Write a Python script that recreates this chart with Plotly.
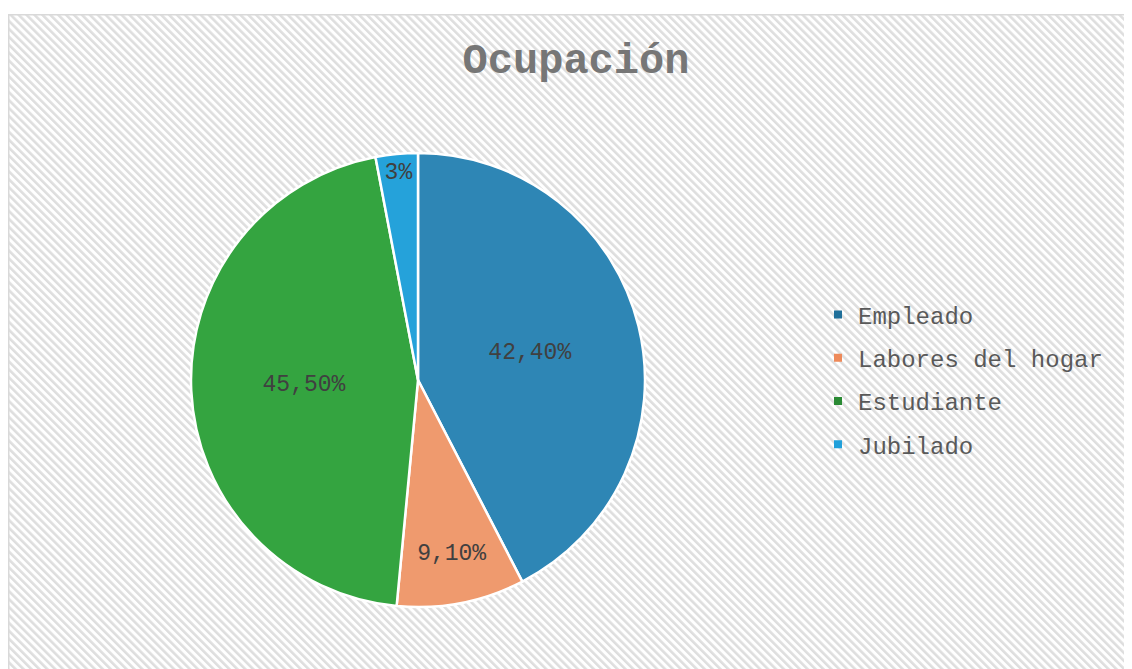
import base64
import plotly.graph_objects as go

categories = ["Empleado", "Labores del hogar", "Estudiante", "Jubilado"]
values = [42.4, 9.1, 45.5, 3.0]
value_labels = ["42,40%", "9,10%", "45,50%", "3%"]
colors = ["#2e86b5", "#ef9a6e", "#34a440", "#25a2da"]
legend_colors = ["#1f6f9a", "#ee8a5a", "#2a8a34", "#21a0da"]

# figure is placed by the page with an 8px body margin
W, H = 1124, 661
FX, FY = 0, 6  # chart frame origin (figure px)

# hatched background (diagonal stripes) as an SVG image
pw, ph = W - FX, H - FY
svg = (
    f'<svg xmlns="http://www.w3.org/2000/svg" width="{pw}" height="{ph}">'
    '<defs><pattern id="p" width="5.6" height="5.6" patternUnits="userSpaceOnUse" '
    'patternTransform="rotate(-45)"><rect width="5.6" height="5.6" fill="#ffffff"/>'
    '<rect width="2.6" height="5.6" fill="#dedede"/></pattern></defs>'
    f'<rect width="{pw}" height="{ph}" fill="url(#p)"/></svg>'
)
src = "data:image/svg+xml;base64," + base64.b64encode(svg.encode()).decode()

FONT = "Liberation Mono, Courier New, monospace"

fig = go.Figure()
fig.add_trace(go.Pie(
    labels=categories,
    values=values,
    text=value_labels,
    texttemplate="%{text}",
    textposition="inside",
    insidetextorientation="horizontal",
    sort=False,
    direction="clockwise",
    rotation=0,
    marker=dict(colors=colors, line=dict(color="#ffffff", width=2.5)),
    textfont=dict(family=FONT, size=23, color="#404040"),
    showlegend=False,
    domain=dict(x=[183 / W, 637 / W], y=[1 - 599 / H, 1 - 145 / H]),
))

# legend entries, one per category
for i, (cat, col) in enumerate(zip(categories, legend_colors)):
    fig.add_trace(go.Scatter(
        x=[None], y=[None], mode="markers", name=cat,
        marker=dict(symbol="square", size=8, color=col),
        legendgroup=f"g{i}", showlegend=True,
    ))

fig.update_layout(
    width=W, height=H,
    margin=dict(l=0, r=0, t=0, b=0),
    paper_bgcolor="#ffffff",
    plot_bgcolor="rgba(0,0,0,0)",
    xaxis=dict(visible=False),
    yaxis=dict(visible=False),
    title=dict(
        text="<b>Ocupación</b>",
        x=568 / W, xanchor="center",
        y=1 - 50 / H, yanchor="middle",
        font=dict(family=FONT, size=42, color="#767676"),
    ),
    legend=dict(
        x=810 / W, xanchor="left",
        y=1 - 371.5 / H, yanchor="middle",
        font=dict(family=FONT, size=24, color="#595959"),
        bgcolor="rgba(0,0,0,0)",
        tracegroupgap=9,
        itemwidth=30,
    ),
    images=[dict(
        source=src, xref="paper", yref="paper",
        x=FX / W, y=1 - FY / H, sizex=1 - FX / W, sizey=1 - FY / H,
        xanchor="left", yanchor="top", sizing="stretch", layer="below",
    )],
    shapes=[dict(
        type="rect", xref="paper", yref="paper",
        x0=(FX + 0.75) / W, y0=-0.01, x1=1.01, y1=1 - (FY + 0.75) / H,
        line=dict(color="#d9d9d9", width=1.5), fillcolor="rgba(0,0,0,0)",
        layer="below",
    )],
)

fig.write_html("out.html")
